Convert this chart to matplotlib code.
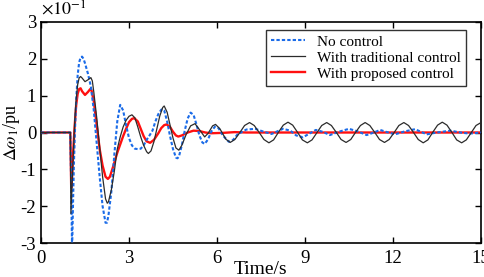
import matplotlib
matplotlib.use('Agg')
import matplotlib.pyplot as plt

# Valores (unidades de 1e-1 pu)
t_nc = [0, 1.0, 1.03, 1.06, 1.09, 1.12, 1.16, 1.2, 1.25, 1.3, 1.35, 1.4, 1.45, 1.5, 1.6, 1.7,
        1.8, 1.9, 2.0, 2.1, 2.2, 2.25, 2.3, 2.4, 2.5, 2.6, 2.7, 2.8, 2.9, 3.0, 3.1, 3.2, 3.3,
        3.4, 3.5, 3.6, 3.7, 3.8, 3.9, 4.0, 4.1, 4.15, 4.2, 4.3, 4.4, 4.5, 4.6, 4.65, 4.7, 4.8,
        4.9, 5.0, 5.1, 5.2, 5.3, 5.4, 5.5, 5.58, 5.7, 5.8, 5.93, 6.05, 6.2, 6.4, 6.55, 6.7,
        7.0, 7.3, 7.6, 7.86, 8.05, 8.25, 8.5, 8.7, 8.93, 9.15, 9.37, 9.6, 9.85, 10.15, 10.5,
        10.8, 11.1, 11.35, 11.56, 11.8, 12.07, 12.4, 12.75, 12.95, 13.15, 13.5, 13.95, 14.3,
        14.6, 15.0]
v_nc = [0, 0, -1.5, -3.2, -2.0, -0.9, 0.1, 0.9, 1.55, 1.9, 2.04, 2.06, 2.0, 1.88, 1.6, 1.25,
        0.6, -0.3, -1.2, -2.0, -2.45, -2.45, -2.25, -1.6, -0.6, 0.3, 0.75, 0.6, 0.2, -0.15,
        -0.35, -0.44, -0.45, -0.44, -0.35, -0.2, -0.08, 0.05, 0.3, 0.5, 0.62, 0.63, 0.6, 0.3,
        -0.1, -0.45, -0.68, -0.7, -0.66, -0.35, 0.05, 0.38, 0.54, 0.48, 0.22, -0.08, -0.27,
        -0.31, -0.18, 0.02, 0.16, 0.12, -0.08, -0.25, -0.2, -0.05, 0.08, 0.1, 0.02, -0.04,
        0.03, 0.1, 0.05, -0.08, -0.13, -0.03, 0.07, 0.02, -0.07, 0.02, 0.1, 0.03, -0.07, 0.0,
        0.07, 0.01, -0.05, 0.03, 0.09, 0.02, -0.05, 0.0, 0.05, 0.0, -0.03, 0.0]

t_tc = [0, 1.0, 1.02, 1.06, 1.1, 1.15, 1.2, 1.25, 1.3, 1.35, 1.4, 1.5, 1.6, 1.7, 1.75, 1.8,
        1.9, 2.0, 2.1, 2.2, 2.26, 2.3, 2.4, 2.5, 2.6, 2.7, 2.8, 2.9, 3.0, 3.1, 3.2, 3.3, 3.4,
        3.5, 3.6, 3.66, 3.75, 3.85, 3.95, 4.05, 4.15, 4.2, 4.3, 4.4, 4.5, 4.6, 4.7, 4.8, 4.95,
        5.1, 5.25, 5.4, 5.58, 5.7, 5.85, 5.95, 6.1, 6.3, 6.45, 6.61, 6.78, 6.94, 7.11, 7.27,
        7.44, 7.6, 7.77, 7.93, 8.09, 8.26, 8.42, 8.58, 8.75, 8.91, 9.08, 9.24, 9.41, 9.57,
        9.74, 9.9, 10.07, 10.23, 10.4, 10.56, 10.72, 10.89, 11.05, 11.21, 11.38, 11.54, 11.71,
        11.87, 12.04, 12.2, 12.37, 12.53, 12.7, 12.86, 13.03, 13.19, 13.35, 13.52, 13.68,
        13.84, 14.01, 14.17, 14.34, 14.5, 14.67, 14.83, 15.0]
v_tc = [0, 0, -2.2, -1.4, -0.6, 0.3, 0.9, 1.3, 1.48, 1.52, 1.48, 1.38, 1.43, 1.49, 1.4, 1.1,
        0.4, -0.4, -1.2, -1.8, -1.92, -1.88, -1.55, -1.05, -0.45, -0.12, 0.15, 0.33, 0.44,
        0.48, 0.4, 0.15, -0.12, -0.35, -0.52, -0.57, -0.5, -0.25, 0.1, 0.45, 0.68, 0.72, 0.55,
        0.2, -0.15, -0.42, -0.48, -0.35, -0.05, 0.18, 0.24, 0.08, -0.12, -0.02, 0.18, 0.22,
        0.1, -0.18, -0.27, -0.19, 0, 0.19, 0.27, 0.19, 0, -0.19, -0.28, -0.2, 0, 0.2, 0.28,
        0.2, 0, -0.2, -0.28, -0.2, 0, 0.19, 0.27, 0.19, 0, -0.19, -0.27, -0.19, 0, 0.19, 0.27,
        0.19, 0, -0.19, -0.27, -0.19, 0, 0.19, 0.27, 0.19, 0, -0.19, -0.28, -0.2, 0, 0.2, 0.28,
        0.2, 0, -0.2, -0.28, -0.2, 0, 0.19, 0.27]

t_pc = [0, 1.0, 1.03, 1.06, 1.1, 1.15, 1.2, 1.25, 1.3, 1.35, 1.4, 1.5, 1.6, 1.68, 1.72, 1.8,
        1.9, 2.0, 2.1, 2.2, 2.28, 2.35, 2.45, 2.6, 2.8, 2.9, 3.0, 3.1, 3.18, 3.3, 3.4, 3.5,
        3.6, 3.72, 3.85, 4.0, 4.1, 4.2, 4.28, 4.4, 4.5, 4.6, 4.68, 4.8, 5.0, 5.2, 5.4, 5.6,
        5.8, 6.2, 6.6, 7.0, 15.0]
v_pc = [0, 0, -1.5, -1.2, -0.5, 0.2, 0.75, 1.05, 1.18, 1.2, 1.12, 1.02, 1.1, 1.18, 1.15,
        0.85, 0.2, -0.45, -0.9, -1.2, -1.26, -1.2, -0.95, -0.55, -0.1, 0.1, 0.28, 0.37, 0.39,
        0.3, 0.1, -0.1, -0.24, -0.28, -0.2, -0.02, 0.12, 0.2, 0.22, 0.15, 0.02, -0.08, -0.11,
        -0.08, 0.0, 0.05, 0.04, 0.0, -0.02, -0.01, 0.01, 0.0, 0.0]

x_ticks = [0, 3, 6, 9, 12, 15]
y_ticks = [-3, -2, -1, 0, 1, 2, 3]

plt.rcParams['font.family'] = 'Liberation Serif'
plt.rcParams['mathtext.fontset'] = 'stix'
plt.rcParams['axes.unicode_minus'] = False

fig = plt.figure(figsize=(4.84, 2.77), dpi=100)
ax = fig.add_axes([0.0847, 0.1227, 0.9091, 0.7979])

ax.plot(t_nc, v_nc, color='#1a6be8', linestyle=(0, (1.6, 1.0)), linewidth=1.5,
        label='No control', zorder=3)
ax.plot(t_tc, v_tc, color='#2b2b2b', linestyle='-', linewidth=0.9,
        label='With traditional control', zorder=4)
ax.plot(t_pc, v_pc, color='#ff1010', linestyle='-', linewidth=1.7,
        label='With proposed control', zorder=2)

ax.set_xlim(0, 15)
ax.set_ylim(-3, 3)
ax.set_xticks(x_ticks)
ax.set_yticks(y_ticks)
ax.tick_params(direction='in', top=True, right=True, length=4, width=1,
               labelsize=13.5)
ax.tick_params(axis='x', pad=5)
for s in ax.spines.values():
    s.set_linewidth(1.2)

ax.set_xlabel('Time/s', fontsize=14, labelpad=-4)
ax.set_ylabel(r'$\Delta\omega_1$/pu', fontsize=13, labelpad=-1)
ax.text(0.0, 1.01, r'$\times10^{-1}$', transform=ax.transAxes, fontsize=13,
        ha='left', va='bottom')

leg = ax.legend(loc='upper right', bbox_to_anchor=(0.966, 0.965), fontsize=11,
                frameon=True, fancybox=False, edgecolor='black', handlelength=2.2,
                borderaxespad=0.0, labelspacing=0.15, handletextpad=0.8,
                borderpad=0.35)
leg.get_frame().set_linewidth(1.0)

plt.savefig('out.png', dpi=100)
